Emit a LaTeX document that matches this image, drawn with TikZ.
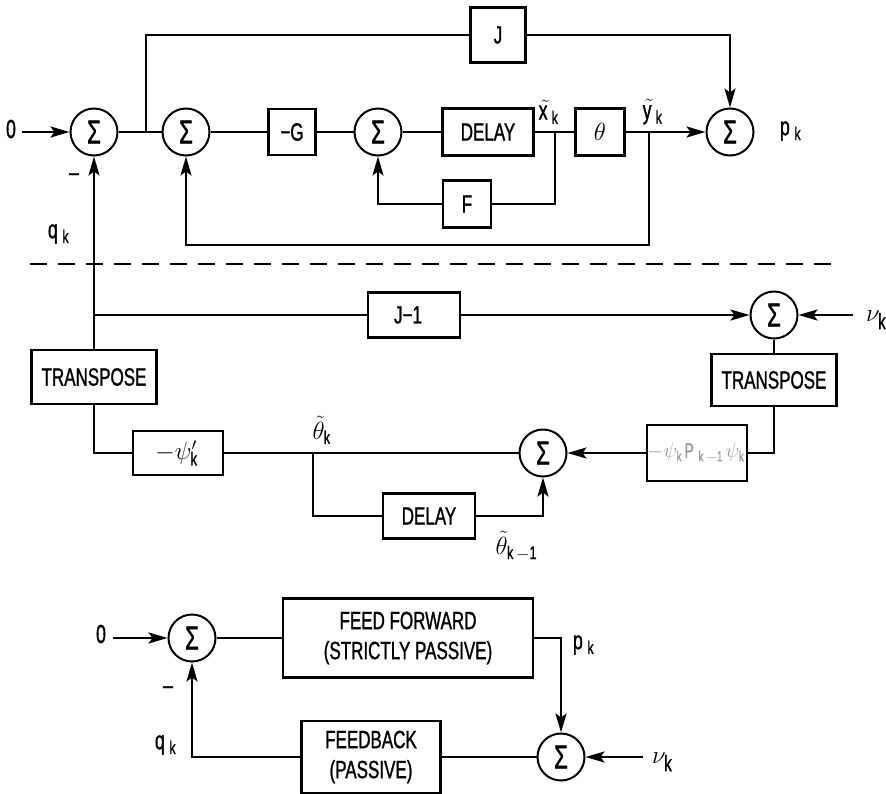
\documentclass[tikz,border=0pt]{standalone}
\usepackage{fontspec}
\setmainfont{Liberation Sans}[FakeStretch=0.68,FakeBold=1.1]
\usetikzlibrary{arrows.meta}
\tikzset{
  wire/.style={line width=2.4pt},
  arr/.style={wire,-{Stealth[length=19pt,width=11pt,inset=4pt]}},
  sumnode/.style={circle,draw,line width=2pt,minimum size=47pt,inner sep=0pt,font=\fontsize{33}{35}\selectfont},
  blk/.style={draw,line width=2.4pt,inner sep=0pt,font=\fontsize{25}{30}\selectfont,align=center},
  lbl/.style={font=\fontsize{26}{28}\selectfont,inner sep=0pt},
}
\begin{document}
\begin{tikzpicture}[x=1pt,y=-1pt]
\useasboundingbox (0,0) rectangle (886,793);
% ---------------- top part ----------------
\node[sumnode] (s1) at (94,132) {Σ};
\node[sumnode] (s2) at (186,132) {Σ};
\node[blk,minimum width=47pt,minimum height=46pt] (G) at (292,132) {−G};
\node[sumnode] (s3) at (378,132) {Σ};
\node[blk,minimum width=91pt,minimum height=47pt] (D1) at (488,132) {DELAY};
\node[blk,minimum width=49pt,minimum height=47pt,font=\fontsize{28}{30}\selectfont] (TH) at (600,132) {$\theta$};
\node[sumnode] (s4) at (730,132) {Σ};
\node[blk,minimum width=55pt,minimum height=55pt] (J) at (498,35) {J};
\node[blk,minimum width=48pt,minimum height=47pt] (F) at (467,204) {F};
\coordinate (in1) at (22,132);
\coordinate (jt) at (146,132);
\coordinate (jx) at (555,132);
\coordinate (jy) at (649,132);
\coordinate (fb) at (649,245);
\node[lbl] (z1) at (11,129) {0};
\draw[arr] (in1) -- (s1.west);
\draw[wire] (s1.east) -- (s2.west);
\draw[wire] (jt) |- (J.west);
\draw[arr] (J.east) -| (s4.north);
\draw[wire] (s2.east) -- (G.west);
\draw[wire] (G.east) -- (s3.west);
\draw[wire] (s3.east) -- (D1.west);
\draw[wire] (D1.east) -- (TH.west);
\draw[arr] (TH.east) -- (s4.west);
\draw[wire] (jx) |- (F.east);
\draw[arr] (F.west) -| (s3.south);
\draw[arr] (jy) -- (fb) -| (s2.south);
\node[lbl] (lx) at (550,112) {$\tilde{\mathrm{x}}_{\mathrm{k}}$};
\node[lbl] (ly) at (654,112) {$\tilde{\mathrm{y}}_{\mathrm{k}}$};
\node[lbl] (lp1) at (792,131) {$\mathrm{p}_{\mathrm{k}}$};
\node[lbl] (lq1) at (60,234) {$\mathrm{q}_{\mathrm{k}}$};
\node[lbl] (m1) at (74,177) {–};
% dashed separator
\draw[line width=1.8pt,dash pattern=on 17pt off 11pt] (30,264) -- (832,264);
% ---------------- middle part ----------------
\node[sumnode] (s5) at (774,315) {Σ};
\node[blk,minimum width=125pt,minimum height=54pt] (T1) at (94,377) {TRANSPOSE};
\node[blk,minimum width=92pt,minimum height=45pt] (J1) at (414,315) {J−1\hspace*{12pt}};
\node[blk,minimum width=125pt,minimum height=52pt] (T2) at (774,380) {TRANSPOSE};
\node[blk,minimum width=93pt,minimum height=56pt,text=black!40,font=\fontsize{21}{24}\selectfont] (PB) at (697,453) {$-\psi_{\mathrm{k}}\mathrm{P}_{\mathrm{k-1}}\psi_{\mathrm{k}}$};
\node[sumnode] (s6) at (543,453) {Σ};
\node[blk,minimum width=90pt,minimum height=44pt,font=\fontsize{27}{30}\selectfont] (PS) at (178,453) {$-\psi'_{\mathrm{k}}$};
\node[blk,minimum width=92pt,minimum height=45pt] (D2) at (429,516) {DELAY};
\coordinate (jm) at (94,315);
\coordinate (nu1) at (853,315);
\coordinate (jth) at (313,453);
\draw[arr] (T1.north) -- (s1.south);
\draw[wire] (jm) -- (J1.west);
\draw[arr] (J1.east) -- (s5.west);
\draw[arr] (nu1) -- (s5.east);
\draw[wire] (s5.south) -- (T2.north);
\draw[wire] (T2.south) |- (PB.east);
\draw[arr] (PB.west) -- (s6.east);
\draw[wire] (s6.west) -- (PS.east);
\draw[wire] (T1.south) |- (PS.west);
\draw[wire] (jth) |- (D2.west);
\draw[arr] (D2.east) -| (s6.south);
\node[lbl,font=\fontsize{32}{34}\selectfont] (lnu1) at (878,320) {$\nu_{\mathrm{k}}$};
\node[lbl,font=\fontsize{26}{28}\selectfont] (lth) at (323,430) {$\tilde{\theta}_{\mathrm{k}}$};
\node[lbl,font=\fontsize{26}{28}\selectfont] (lth1) at (518,546) {$\tilde{\theta}_{\mathrm{k-1}}$};
% ---------------- bottom part ----------------
\node[sumnode] (s7) at (192,638) {Σ};
\node[blk,minimum width=250pt,minimum height=79pt] (FF) at (408,638) {FEED FORWARD\\(STRICTLY PASSIVE)};
\node[sumnode] (s8) at (561,757) {Σ};
\node[blk,minimum width=139pt,minimum height=72pt] (FBK) at (371,757) {FEEDBACK\\(PASSIVE)};
\coordinate (in2) at (113,638);
\coordinate (nu2) at (643,757);
\node[lbl] (z2) at (101,634) {0};
\draw[arr] (in2) -- (s7.west);
\draw[wire] (s7.east) -- (FF.west);
\draw[arr] (FF.east) -| (s8.north);
\draw[arr] (nu2) -- (s8.east);
\draw[wire] (s8.west) -- (FBK.east);
\draw[arr] (FBK.west) -| (s7.south);
\node[lbl] (lp2) at (585,645) {$\mathrm{p}_{\mathrm{k}}$};
\node[lbl,font=\fontsize{32}{34}\selectfont] (lnu2) at (664,762) {$\nu_{\mathrm{k}}$};
\node[lbl] (lq2) at (167,745) {$\mathrm{q}_{\mathrm{k}}$};
\node[lbl] (m2) at (168,690) {–};
\end{tikzpicture}
\end{document}
